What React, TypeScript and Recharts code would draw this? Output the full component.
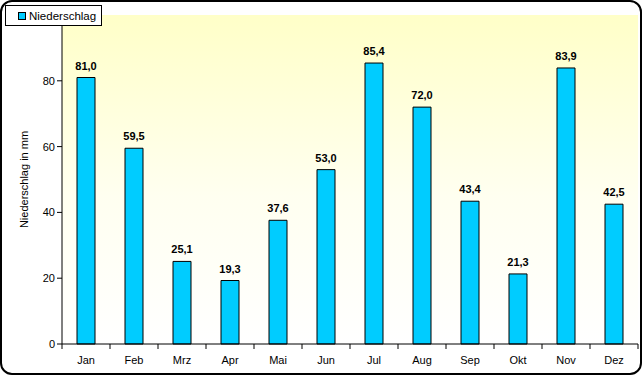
import React from 'react';
import { BarChart, Bar, XAxis, YAxis, CartesianGrid, LabelList } from 'recharts';

// Monatswerte Niederschlag
const months = ['Jan', 'Feb', 'Mrz', 'Apr', 'Mai', 'Jun', 'Jul', 'Aug', 'Sep', 'Okt', 'Nov', 'Dez'];
const niederschlag = [81.0, 59.5, 25.1, 19.3, 37.6, 53.0, 85.4, 72.0, 43.4, 21.3, 83.9, 42.5];
const yTicks = [0, 20, 40, 60, 80];

const data = months.map((m, i) => ({ month: m, value: niederschlag[i] }));

const FONT = 'Arial, "Liberation Sans", sans-serif';

// tick marks sit on the category borders, labels in the middle
const XTick = (props: any) => {
  const { x, y, payload, index, visibleTicksCount } = props;
  const half = payload && payload.offset ? payload.offset : 24;
  const y0 = y - 8;
  return (
    <g>
      <line x1={x - half} y1={y0} x2={x - half} y2={y0 + 5} stroke="#000" />
      {index === visibleTicksCount - 1 && (
        <line x1={x + half} y1={y0} x2={x + half} y2={y0 + 5} stroke="#000" />
      )}
      <text x={x} y={y0 + 20} textAnchor="middle" fontSize={11} fontFamily={FONT} fill="#000">
        {payload.value}
      </text>
    </g>
  );
};

const LegendBox = () => (
  <div
    style={{
      position: 'absolute',
      left: 5,
      top: 5,
      border: '1px solid #000',
      background: '#fff',
      width: 95,
      height: 19,
      display: 'flex',
      alignItems: 'center',
      fontFamily: FONT,
      fontSize: 11.5,
      zIndex: 2,
    }}
  >
    <span
      style={{
        display: 'inline-block',
        width: 6,
        height: 6,
        background: '#00CCFF',
        border: '1px solid #000',
        marginLeft: 12,
        marginRight: 3,
      }}
    />
    Niederschlag
  </div>
);

const YLabel = (props: any) => {
  const { viewBox } = props;
  const cx = viewBox.x + 14;
  const cy = viewBox.y + viewBox.height / 2;
  return (
    <text x={cx} y={cy} transform={`rotate(-90, ${cx}, ${cy})`} textAnchor="middle" dominantBaseline="central" fontSize={11} fontFamily={FONT} fill="#000">
      Niederschlag in mm
    </text>
  );
};

const App: React.FC = () => {
  return (
    <div style={{ position: 'absolute', left: 0, top: 0, width: 643, height: 376, background: '#fff' }}>
      <div
        style={{
          position: 'absolute',
          left: 0,
          top: 0,
          width: 642,
          height: 375,
          border: '2px solid #000',
          borderRadius: 12,
          boxSizing: 'border-box',
        }}
      />
      <div style={{ position: 'absolute', left: 0, top: 0 }}>
        <BarChart
          width={643}
          height={376}
          data={data}
          margin={{ top: 15, right: 5, bottom: 7, left: 10 }}
          barCategoryGap={15}
        >
          <defs>
            <linearGradient id="plotBg" x1="0" y1="0" x2="0" y2="1">
              <stop offset="0%" stopColor="#FFFFC8" />
              <stop offset="55%" stopColor="#FFFFF0" />
              <stop offset="100%" stopColor="#FFFFFF" />
            </linearGradient>
          </defs>
          <CartesianGrid horizontal={false} vertical={false} fill="url(#plotBg)" />
          <XAxis
            dataKey="month"
            height={25}
            axisLine={{ stroke: '#000' }}
            tickLine={false}
            tick={<XTick />}
            interval={0}
          />
          <YAxis
            width={52}
            domain={[0, 100]}
            ticks={yTicks}
            axisLine={{ stroke: '#000' }}
            tickLine={{ stroke: '#000' }}
            tickSize={5}
            tick={{ fontSize: 11, fontFamily: FONT, fill: '#000' }}
            label={<YLabel />}
          />
          <Bar dataKey="value" name="Niederschlag" fill="#00CCFF" stroke="#000" strokeWidth={1} isAnimationActive={false}>
            <LabelList
              dataKey="value"
              position="top"
              offset={8}
              formatter={(v: any) => Number(v).toFixed(1).replace('.', ',')}
              style={{ fontSize: 11, fontWeight: 'bold', fontFamily: FONT, fill: '#000' }}
            />
          </Bar>
        </BarChart>
      </div>
      <LegendBox />
    </div>
  );
};

export default App;
